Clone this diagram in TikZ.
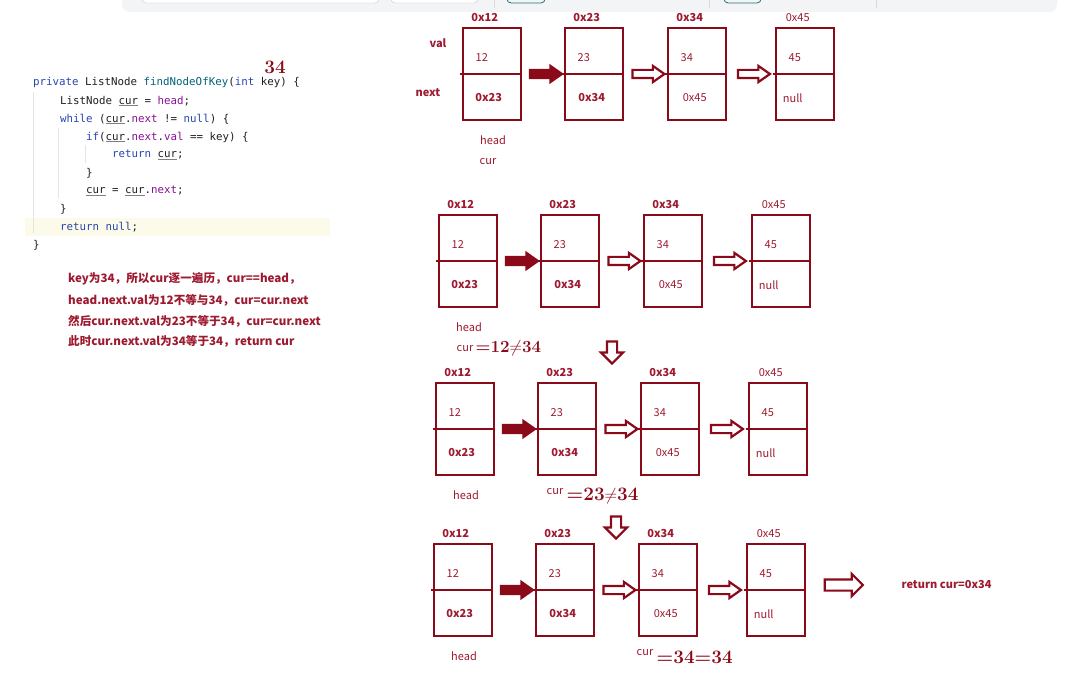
\documentclass[tikz,border=0pt]{standalone}
\usepackage{fontspec}
\usepackage{xcolor}
\usetikzlibrary{positioning, calc, shapes.arrows}
\newfontfamily\cjk{Noto Sans CJK SC}
\newfontfamily\codefont{DejaVu Sans Mono}
\definecolor{boxR}{RGB}{139,10,26}
\definecolor{txtR}{RGB}{158,26,48}
\definecolor{codeKw}{RGB}{40,70,175}
\definecolor{codeFn}{RGB}{0,98,122}
\definecolor{codeFld}{RGB}{135,16,148}
\definecolor{codeFg}{RGB}{30,32,36}
\definecolor{codeHl}{RGB}{252,250,232}
\definecolor{guideG}{RGB}{228,228,228}
\definecolor{barG}{RGB}{243,244,246}
\definecolor{barT}{RGB}{30,110,125}
\newcommand{\kw}[1]{\textcolor{codeKw}{#1}}
\newcommand{\fnm}[1]{\textcolor{codeFn}{#1}}
\newcommand{\fld}[1]{\textcolor{codeFld}{#1}}
\newcommand{\ulv}[1]{\textcolor{gray}{\underline{\textcolor{codeFg}{#1}}}}
\tikzset{
  cellbox/.style={draw=boxR, line width=2.5pt, minimum width=58pt, minimum height=92pt, inner sep=0pt},
  divline/.style={boxR, line width=2.5pt},
  lbl/.style={font=\cjk\fontsize{11}{13}\selectfont, text=txtR, inner sep=1pt},
  boldlbl/.style={lbl, font=\cjk\bfseries\fontsize{11}{13}\selectfont},
  hand/.style={font=\bfseries\fontsize{17}{17}\selectfont, text=boxR, inner sep=0pt},
  hollowarr/.style={single arrow, draw=boxR, line width=2.2pt, fill=white, minimum height=32pt,
    single arrow head extend=4pt, single arrow tip angle=70, inner sep=3pt},
  fillarr/.style={hollowarr, fill=boxR},
  bigarr/.style={hollowarr, inner sep=4.5pt, single arrow head extend=5.5pt, single arrow tip angle=90, minimum height=38pt},
  downarr/.style={bigarr, shape border rotate=270, minimum height=22pt, inner sep=4pt, single arrow head extend=6pt},
  codeln/.style={font=\codefont\fontsize{10.8}{12}\selectfont, text=codeFg, anchor=west, inner sep=0pt},
  note/.style={font=\cjk\bfseries\fontsize{11.6}{13}\selectfont, text=txtR, anchor=west, inner sep=0pt},
}

\begin{document}
\begin{tikzpicture}[x=1pt, y=-1pt]
\useasboundingbox (0,0) rectangle (1079,684);
\fill[white] (0,0) rectangle (1079,684);
% toolbar strip at the top
\begin{scope}
\clip (0,0) rectangle (1079,684);
\fill[barG, rounded corners=8pt] (122,-20) rectangle (1057,12);
\draw[gray!45, fill=white, rounded corners=4pt] (142,-10) rectangle (379,3);
\draw[gray!45, fill=white, rounded corners=4pt] (391,-10) rectangle (478,3);
\draw[barT, rounded corners=4pt, line width=0.8pt] (507,-10) rectangle (545,3);
\draw[barT, rounded corners=4pt, line width=0.8pt] (724,-10) rectangle (761,3);
\draw[gray!30] (494,-2) -- (494,8);
\draw[gray!30] (709,-2) -- (709,8);
\draw[gray!30] (876,-2) -- (876,8);
\end{scope}

% code listing
\fill[codeHl] (25,218) rectangle (330,236);
\draw[guideG] (33,92) -- (33,233);
\draw[guideG] (58,128) -- (58,198);
\draw[guideG] (85,145) -- (85,163);
\node[codeln] (code1) at (33,83) {\kw{private} ListNode \fnm{findNodeOfKey}(\kw{int} key) \{};
\node[codeln] (code2) at (60,101) {ListNode \ulv{cur} = \fld{head};};
\node[codeln] (code3) at (60,119) {\kw{while} (\ulv{cur}.\fld{next} != \kw{null}) \{};
\node[codeln] (code4) at (86,137) {\kw{if}(\ulv{cur}.\fld{next}.\fld{val} == key) \{};
\node[codeln] (code5) at (112,155) {\kw{return} \ulv{cur};};
\node[codeln] (code6) at (86,173) {\}};
\node[codeln] (code7) at (86,191) {\ulv{cur} = \ulv{cur}.\fld{next};};
\node[codeln] (code8) at (60,209) {\}};
\node[codeln] (code9) at (60,227) {\kw{return} \kw{null};};
\node[codeln] (code10) at (33,245) {\}};
\node[hand, font=\bfseries\fontsize{19}{19}\selectfont] (keymark) at (275,67) {34};

% explanation
\node[note] (note1) at (68,279) {key为34，所以cur逐一遍历，cur==head，};
\node[note] (note2) at (68,300) {head.next.val为12不等与34，cur=cur.next};
\node[note] (note3) at (68,321) {然后cur.next.val为23不等于34，cur=cur.next};
\node[note] (note4) at (68,341) {此时cur.next.val为34等于34，return cur};

% the four lists
\foreach \r/\ox/\oy in {1/463/28, 2/439/215, 3/436/383, 4/434/544} {
  \foreach \i/\dx/\addr/\val/\nxt/\nx in {1/0/{\bfseries 0x12}/12/{\bfseries 0x23}/27,
      2/102/{\bfseries 0x23}/23/{\bfseries 0x34}/28, 3/205/{\bfseries 0x34}/34/0x45/28, 4/313/0x45/45/null/18} {
    \node[cellbox] (r\r-\i) at (\ox+\dx+29, \oy+46) {};
    \draw[divline] ([xshift=-2pt]r\r-\i.west) -- (r\r-\i.east);
    \node[lbl] at ($(r\r-\i.north west)+(23,-9)$) {\addr};
    \node[lbl] at ($(r\r-\i.north west)+(20,31)$) {\val};
    \node[lbl] at ($(r\r-\i.north west)+(\nx,71)$) {\nxt};
  }
  \path (r\r-1.east) -- (r\r-2.west) node[midway, fillarr] {};
  \foreach \i/\j in {2/3, 3/4}
    \path (r\r-\i.east) -- (r\r-\j.west) node[midway, hollowarr] {};
  \node[lbl] (head\r) at ($(r\r-1.south)+(1,19)$) {head};
}

% row labels of the first list
\node[boldlbl] (vallbl) at (438,43) {val};
\node[boldlbl] (nextlbl) at (428,93) {next};
\node[lbl] (cur1) at ($(r1-1.south)+(-4,40)$) {cur};

% where cur stands
\node[lbl] (cur2) at ($(r2-1.south)+(-3,40)$) {cur};
\node[hand, right=1pt of cur2] (hand2) {=12$\neq$34};
\node[lbl] (cur3) at ($(r3-2.south)+(-12,15)$) {cur};
\node[hand, right=2pt of cur3, yshift=-5pt, font=\bfseries\fontsize{19}{19}\selectfont] (hand3) {=23$\neq$34};
\node[lbl] (cur4) at ($(r4-3.south)+(-23,15)$) {cur};
\node[hand, right=2pt of cur4, yshift=-5pt, font=\bfseries\fontsize{19}{19}\selectfont] (hand4) {=34=34};

% steps and result
\node[downarr] (step1) at (612,350) {};
\node[downarr] (step2) at (616,525) {};
\node[bigarr] (ret) at (841,585) {};
\node[boldlbl, right=36pt of ret] (retlbl) {return cur=0x34};
\end{tikzpicture}
\end{document}
